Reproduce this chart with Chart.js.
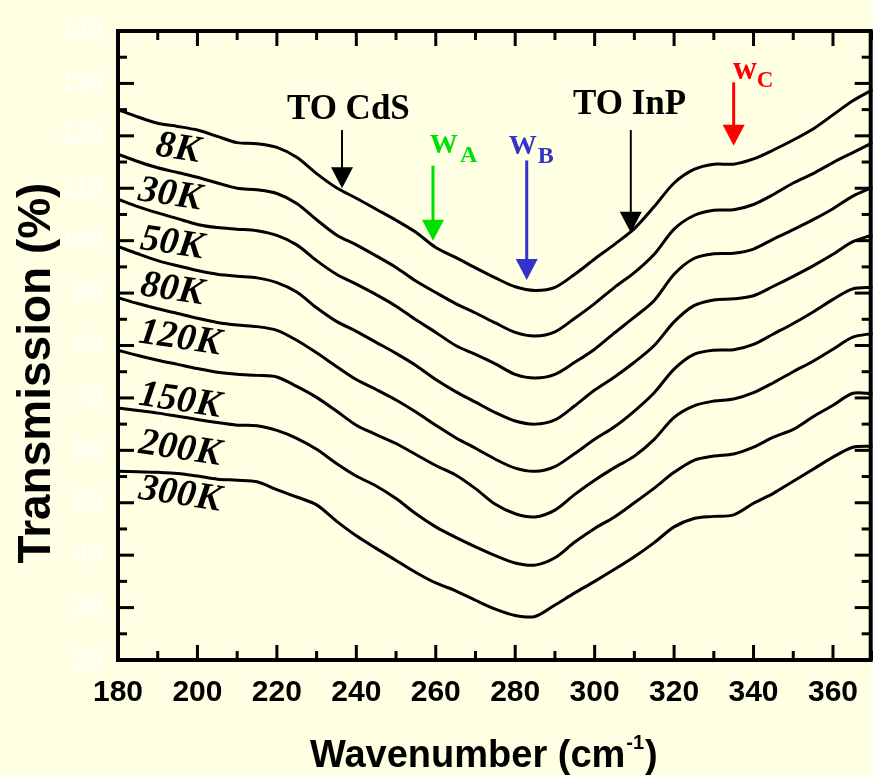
<!DOCTYPE html>
<html>
<head>
<meta charset="utf-8">
<script src="https://cdn.jsdelivr.net/npm/chart.js@4.4.1/dist/chart.umd.min.js"></script>
<style>
body { margin: 0; background: #FFFFE3; }
#wrap { width: 873px; height: 776px; }
</style>
</head>
<body>
<div id="wrap"><canvas id="chart1"></canvas></div>
<script>
// wavenumber grid (cm-1)
var wavenumber = [180,185,190,195,200,205,210,215,220,225,230,235,240,245,250,255,260,265,270,275,
                  280,285,290,295,300,305,310,315,320,325,330,335,340,345,350,355,360,365,370];

// transmission (%) per temperature
var t8K   = [125.0,123.6,122.4,121.8,121.1,119.9,118.7,118.5,117.8,115.9,112.8,110.1,108.1,106.0,103.9,101.6,98.7,96.8,94.8,92.9,
             91.2,90.5,91.1,93.6,96.5,99.3,102.3,106.5,111.0,113.6,114.6,114.6,115.6,117.3,119.2,121.3,124.0,126.7,128.8];
var t30K  = [116.5,115.1,113.9,113.0,112.1,111.0,110.0,109.7,109.0,107.1,104.0,101.1,99.2,97.1,94.9,92.3,90.1,88.0,86.2,84.3,
             82.5,81.8,82.6,85.2,88.0,91.1,93.9,97.4,102.2,104.8,105.8,105.9,106.9,108.8,111.0,112.8,114.9,116.8,118.7];
var t50K  = [107.9,106.5,105.3,104.2,103.1,102.5,102.2,101.9,101.0,99.2,96.2,93.6,91.7,89.7,87.5,84.9,82.5,80.0,78.3,76.5,
             74.5,73.8,74.5,76.8,79.3,82.4,85.4,88.6,93.6,96.6,97.5,97.6,98.4,100.3,102.1,104.0,106.1,108.5,110.2];
var t80K  = [98.9,97.5,96.2,95.2,94.3,93.6,93.2,92.9,92.0,90.2,87.2,84.6,82.7,80.6,78.5,76.2,73.5,71.2,69.2,67.2,
             65.6,65.0,65.8,68.5,71.5,74.0,76.8,80.0,84.5,87.6,88.7,88.9,89.5,91.3,93.2,95.2,97.4,99.8,101.1];
var t120K = [89.1,88.0,87.0,86.1,85.2,84.4,83.9,83.6,82.9,81.0,78.6,76.0,73.5,71.6,69.6,67.3,64.8,62.4,60.4,58.3,
             56.6,56.0,56.9,59.4,62.1,64.5,67.5,71.0,75.5,78.3,79.1,79.2,80.2,82.2,84.2,86.4,88.8,90.8,91.1];
var t150K = [79.1,78.1,77.2,76.4,75.6,74.9,74.5,74.3,74.0,72.2,70.1,67.5,64.8,63.0,61.3,59.2,57.1,55.3,52.7,49.7,
             47.9,47.3,48.6,51.6,54.3,56.7,58.9,62.1,66.3,68.5,69.4,69.8,71.0,72.9,75.0,77.0,79.3,81.6,82.3];
var t200K = [68.1,67.6,67.1,66.5,65.9,65.3,64.8,64.7,63.8,62.3,60.2,57.5,55.1,53.2,50.8,47.9,45.4,43.4,41.6,39.9,
             38.5,38.1,39.5,42.5,45.1,47.3,50.0,52.8,55.8,58.1,58.9,59.3,60.6,62.5,64.0,66.4,68.6,70.9,70.8];
var t300K = [56.0,55.9,55.8,55.6,55.1,54.5,54.3,54.0,52.5,51.1,49.6,46.5,43.7,41.3,39.0,36.7,34.7,33.2,31.4,29.7,
             28.5,28.3,30.5,32.8,35.0,37.3,39.7,42.4,45.4,47.0,47.4,47.7,49.9,51.8,54.1,56.4,58.7,60.6,60.8];

var seriesNames = ["8K","30K","50K","80K","120K","150K","200K","300K"];
var seriesValues = [t8K, t30K, t50K, t80K, t120K, t150K, t200K, t300K];

var xTicks = [180,200,220,240,260,280,300,320,340,360];
var yTicks = [20,30,40,50,60,70,80,90,100,110,120,130,140];

var bgColor = '#FFFFE3';

var datasets = seriesValues.map(function (vals, i) {
  return {
    label: seriesNames[i],
    data: vals.map(function (v, j) { return { x: wavenumber[j], y: v }; }),
    borderColor: '#000',
    borderWidth: 3,
    pointRadius: 0,
    tension: 0.3,
    fill: false
  };
});

// where curve names, mode labels and arrows go (data units)
var notes = {
  curveLabels: [
    { x: 195.1, y: 117.5 }, { x: 193.1, y: 108.7 }, { x: 193.6, y: 99.4 }, { x: 193.6, y: 90.6 },
    { x: 195.6, y: 81.3 }, { x: 195.6, y: 69.4 }, { x: 195.6, y: 60.2 }, { x: 195.6, y: 51.5 }
  ],
  texts: [
    { t: 'TO CdS', x: 238.0, y: 123.2, font: 'bold 35px "Liberation Serif"', color: '#000', align: 'center' },
    { t: 'TO InP', x: 308.8, y: 124.2, font: 'bold 35px "Liberation Serif"', color: '#000', align: 'center' },
    { t: 'W', x: 258.5, y: 116.8, font: 'bold 28px "Liberation Serif"', color: '#00E000', align: 'left' },
    { t: 'A', x: 266.1, y: 115.1, font: 'bold 24px "Liberation Serif"', color: '#00E000', align: 'left' },
    { t: 'W', x: 278.4, y: 116.6, font: 'bold 28px "Liberation Serif"', color: '#3333CC', align: 'left' },
    { t: 'B', x: 285.7, y: 114.9, font: 'bold 24px "Liberation Serif"', color: '#3333CC', align: 'left' },
    { t: 'w', x: 334.8, y: 130.9, font: 'bold 33px "Liberation Serif"', color: '#FF0000', align: 'left' },
    { t: 'C', x: 340.8, y: 129.4, font: 'bold 23px "Liberation Serif"', color: '#FF0000', align: 'left' }
  ],
  arrows: [
    { x: 236.4, from: 121.1, to: 110.0, color: '#000', w: 2 },
    { x: 259.3, from: 114.3, to: 100.0, color: '#00E000', w: 3 },
    { x: 282.9, from: 115.3, to: 92.5, color: '#3333CC', w: 3 },
    { x: 309.1, from: 121.1, to: 101.5, color: '#000', w: 2 },
    { x: 335.0, from: 130.2, to: 118.1, color: '#FF0000', w: 3 }
  ]
};

var framePlugin = {
  id: 'frame',
  beforeDraw: function (chart) {
    var c = chart.ctx;
    c.save();
    c.fillStyle = bgColor;
    c.fillRect(0, 0, chart.width, chart.height);
    c.restore();
  },
  afterDraw: function (chart) {
    var c = chart.ctx, a = chart.chartArea, sx = chart.scales.x, sy = chart.scales.y;
    var right = a.right - 2;
    function seg(x1, y1, x2, y2) { c.beginPath(); c.moveTo(x1, y1); c.lineTo(x2, y2); c.stroke(); }
    c.save();
    c.strokeStyle = '#000';
    c.lineWidth = 3;
    // inward ticks on all four sides
    for (var v = sx.min; v <= sx.max; v += 10) {
      var px = sx.getPixelForValue(v), len = (v % 20 === 0) ? 15 : 9;
      seg(px, a.bottom, px, a.bottom - len);
      seg(px, a.top, px, a.top + len);
    }
    for (var w = sy.min; w <= sy.max; w += 5) {
      var py = sy.getPixelForValue(w), l2 = (w % 10 === 0) ? 16 : 9;
      seg(a.left, py, a.left + l2, py);
      seg(right, py, right - l2, py);
    }
    c.lineWidth = 4;
    c.strokeRect(a.left, a.top, right - a.left, a.bottom - a.top);

    // curve names
    c.fillStyle = '#000';
    c.font = 'italic bold 38px "Liberation Serif"';
    c.textAlign = 'center';
    c.textBaseline = 'middle';
    notes.curveLabels.forEach(function (p, i) {
      c.save();
      c.translate(sx.getPixelForValue(p.x), sy.getPixelForValue(p.y));
      c.rotate(0.15);
      c.fillText(seriesNames[i], 0, 0);
      c.restore();
    });

    // mode labels
    c.textBaseline = 'alphabetic';
    notes.texts.forEach(function (t) {
      c.font = t.font;
      c.fillStyle = t.color;
      c.textAlign = t.align;
      c.fillText(t.t, sx.getPixelForValue(t.x), sy.getPixelForValue(t.y));
    });

    // arrows
    notes.arrows.forEach(function (ar) {
      var x = sx.getPixelForValue(ar.x), y0 = sy.getPixelForValue(ar.from), y1 = sy.getPixelForValue(ar.to);
      c.strokeStyle = ar.color;
      c.fillStyle = ar.color;
      c.lineWidth = ar.w;
      seg(x, y0, x, y1 - 18);
      c.beginPath();
      c.moveTo(x - 11, y1 - 21);
      c.lineTo(x + 11, y1 - 21);
      c.lineTo(x, y1);
      c.closePath();
      c.fill();
    });

    // axis titles
    c.fillStyle = '#000';
    c.textAlign = 'left';
    c.font = 'bold 38px "Liberation Sans"';
    var tx = 310, ty = 767;
    c.fillText('Wavenumber (cm', tx, ty);
    tx += c.measureText('Wavenumber (cm').width;
    c.font = 'bold 20px "Liberation Sans"';
    c.fillText('-1', tx + 1, ty - 18);
    tx += c.measureText('-1').width + 2;
    c.font = 'bold 38px "Liberation Sans"';
    c.fillText(')', tx, ty);

    c.save();
    c.translate(50, 373);
    c.rotate(-Math.PI / 2);
    c.textAlign = 'center';
    c.font = 'bold 46px "Liberation Sans"';
    c.fillText('Transmission (%)', 0, 0);
    c.restore();

    c.restore();
  }
};

var config = {
  type: 'line',
  data: { datasets: datasets },
  options: {
    responsive: true,
    maintainAspectRatio: false,
    animation: false,
    layout: { padding: { top: 24, right: 0, bottom: 0, left: 0 } },
    plugins: { legend: { display: false }, tooltip: { enabled: false } },
    scales: {
      x: {
        type: 'linear',
        min: 180,
        max: 370,
        afterBuildTicks: function (s) { s.ticks = xTicks.map(function (v) { return { value: v }; }); },
        afterFit: function (s) { s.height = 116; },
        grid: { display: false, drawTicks: false },
        border: { display: false },
        ticks: {
          color: '#000',
          padding: 15,
          maxRotation: 0,
          font: { family: 'Liberation Sans', size: 30, weight: 'bold' }
        }
      },
      y: {
        min: 20,
        max: 140,
        afterBuildTicks: function (s) { s.ticks = yTicks.map(function (v) { return { value: v }; }); },
        afterFit: function (s) { s.width = 118; },
        grid: { display: false, drawTicks: false },
        border: { display: false },
        ticks: {
          color: '#FFFFFF',
          padding: 16,
          font: { family: 'Liberation Sans', size: 25 }
        }
      }
    }
  },
  plugins: [framePlugin]
};

var myChart = new Chart(document.getElementById('chart1'), config);
</script>
</body>
</html>
